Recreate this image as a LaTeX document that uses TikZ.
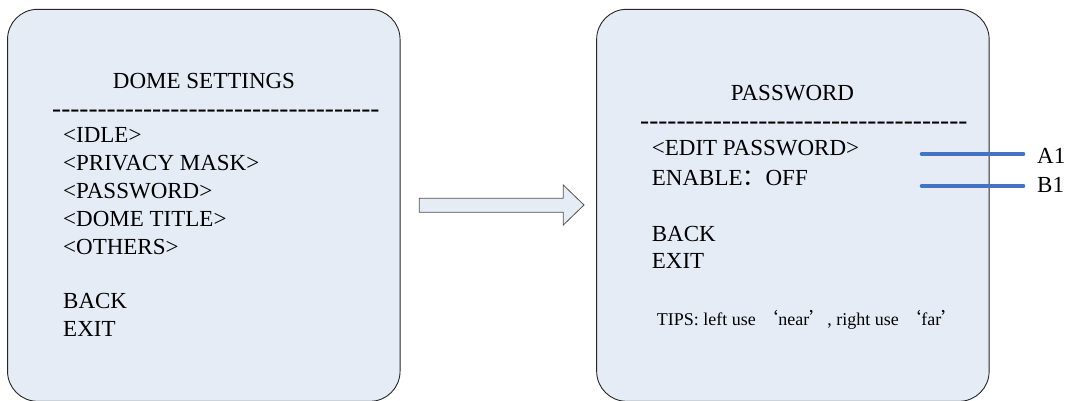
\documentclass[tikz,border=0pt]{standalone}
\usepackage{fontspec}
\setmainfont{Liberation Serif}
\newfontfamily\cjk{Noto Sans CJK SC}
\definecolor{panelfill}{HTML}{E6ECF6}
\definecolor{paneldraw}{HTML}{262626}
\definecolor{markblue}{HTML}{4472C4}
\newcommand\hyphenrun{\foreach \i in {1,...,36}{-\kern0pt}}
\begin{document}
\begin{tikzpicture}[x=1pt,y=-1pt,
  panel/.style={draw=paneldraw,line width=0.9pt,fill=panelfill,rounded corners=30pt,
    inner sep=0pt,minimum width=392.5pt,minimum height=392pt},
  menu/.style={anchor=base west,inner sep=0pt,font=\fontsize{23}{23}\selectfont},
  menutitle/.style={anchor=base,inner sep=0pt,font=\fontsize{23}{23}\selectfont},
  rule/.style={anchor=base west,inner sep=0pt,text height=9pt,text depth=0pt,
    font=\fontsize{27.3}{27}\selectfont},
  tips/.style={anchor=base west,inner sep=0pt,font=\fontsize{18}{18}\selectfont},
  blueline/.style={draw=markblue,line width=4pt,line cap=round},
  blockarrow/.style={draw=paneldraw!80,line width=0.8pt,fill=panelfill}]
\useasboundingbox (0,0) rectangle (1072,400);
\clip (0,0) rectangle (1072,400);
% panels
\node[panel] (left) at (203.8,205.3) {};
\node[panel] (right) at (792.9,205.3) {};
% left menu
\node[menutitle] (lt) at (204,88) {DOME SETTINGS};
\node[rule] (lr) at (52,117) {\hyphenrun};
\node[menu] (l1) at (63,142) {<IDLE>};
\node[menu] (l2) at (63,170) {<PRIVACY MASK>};
\node[menu] (l3) at (63,198.5) {<PASSWORD>};
\node[menu] (l4) at (63,226.5) {<DOME TITLE>};
\node[menu] (l5) at (63,254) {<OTHERS>};
\node[menu] (l6) at (63,308) {BACK};
\node[menu] (l7) at (63,336.5) {EXIT};
% block arrow
\draw[blockarrow] (419.3,198.3) -- (563.3,198.3) -- (563.3,185) -- (584,205)
  -- (563.3,225) -- (563.3,212.3) -- (419.3,212.3) -- cycle;
% right menu
\node[menutitle] (rt) at (792.5,100) {PASSWORD};
\node[rule] (rr) at (640,129.5) {\hyphenrun};
\node[menu] (r1) at (651.7,155.7) {<EDIT PASSWORD>};
\node[menu] (r2) at (651.7,185) {ENABLE{\cjk ：}OFF};
\node[menu] (r3) at (651.7,241.7) {BACK};
\node[menu] (r4) at (651.7,268.3) {EXIT};
\node[tips] (r5) at (656.7,325) {TIPS: left use {\cjk ‘}near{\cjk ’}, right use {\cjk ‘}far{\cjk ’}};
% markers
\node[menu] (a1) at (1037,163.3) {A1};
\node[menu] (b1) at (1037,192.7) {B1};
\coordinate (a1s) at (921.7,154);
\coordinate (b1s) at (921.7,186);
\draw[blueline] (a1s) -- ([xshift=-13.7pt]a1.west |- a1s);
\draw[blueline] (b1s) -- ([xshift=-13.7pt]b1.west |- b1s);
\end{tikzpicture}
\end{document}
